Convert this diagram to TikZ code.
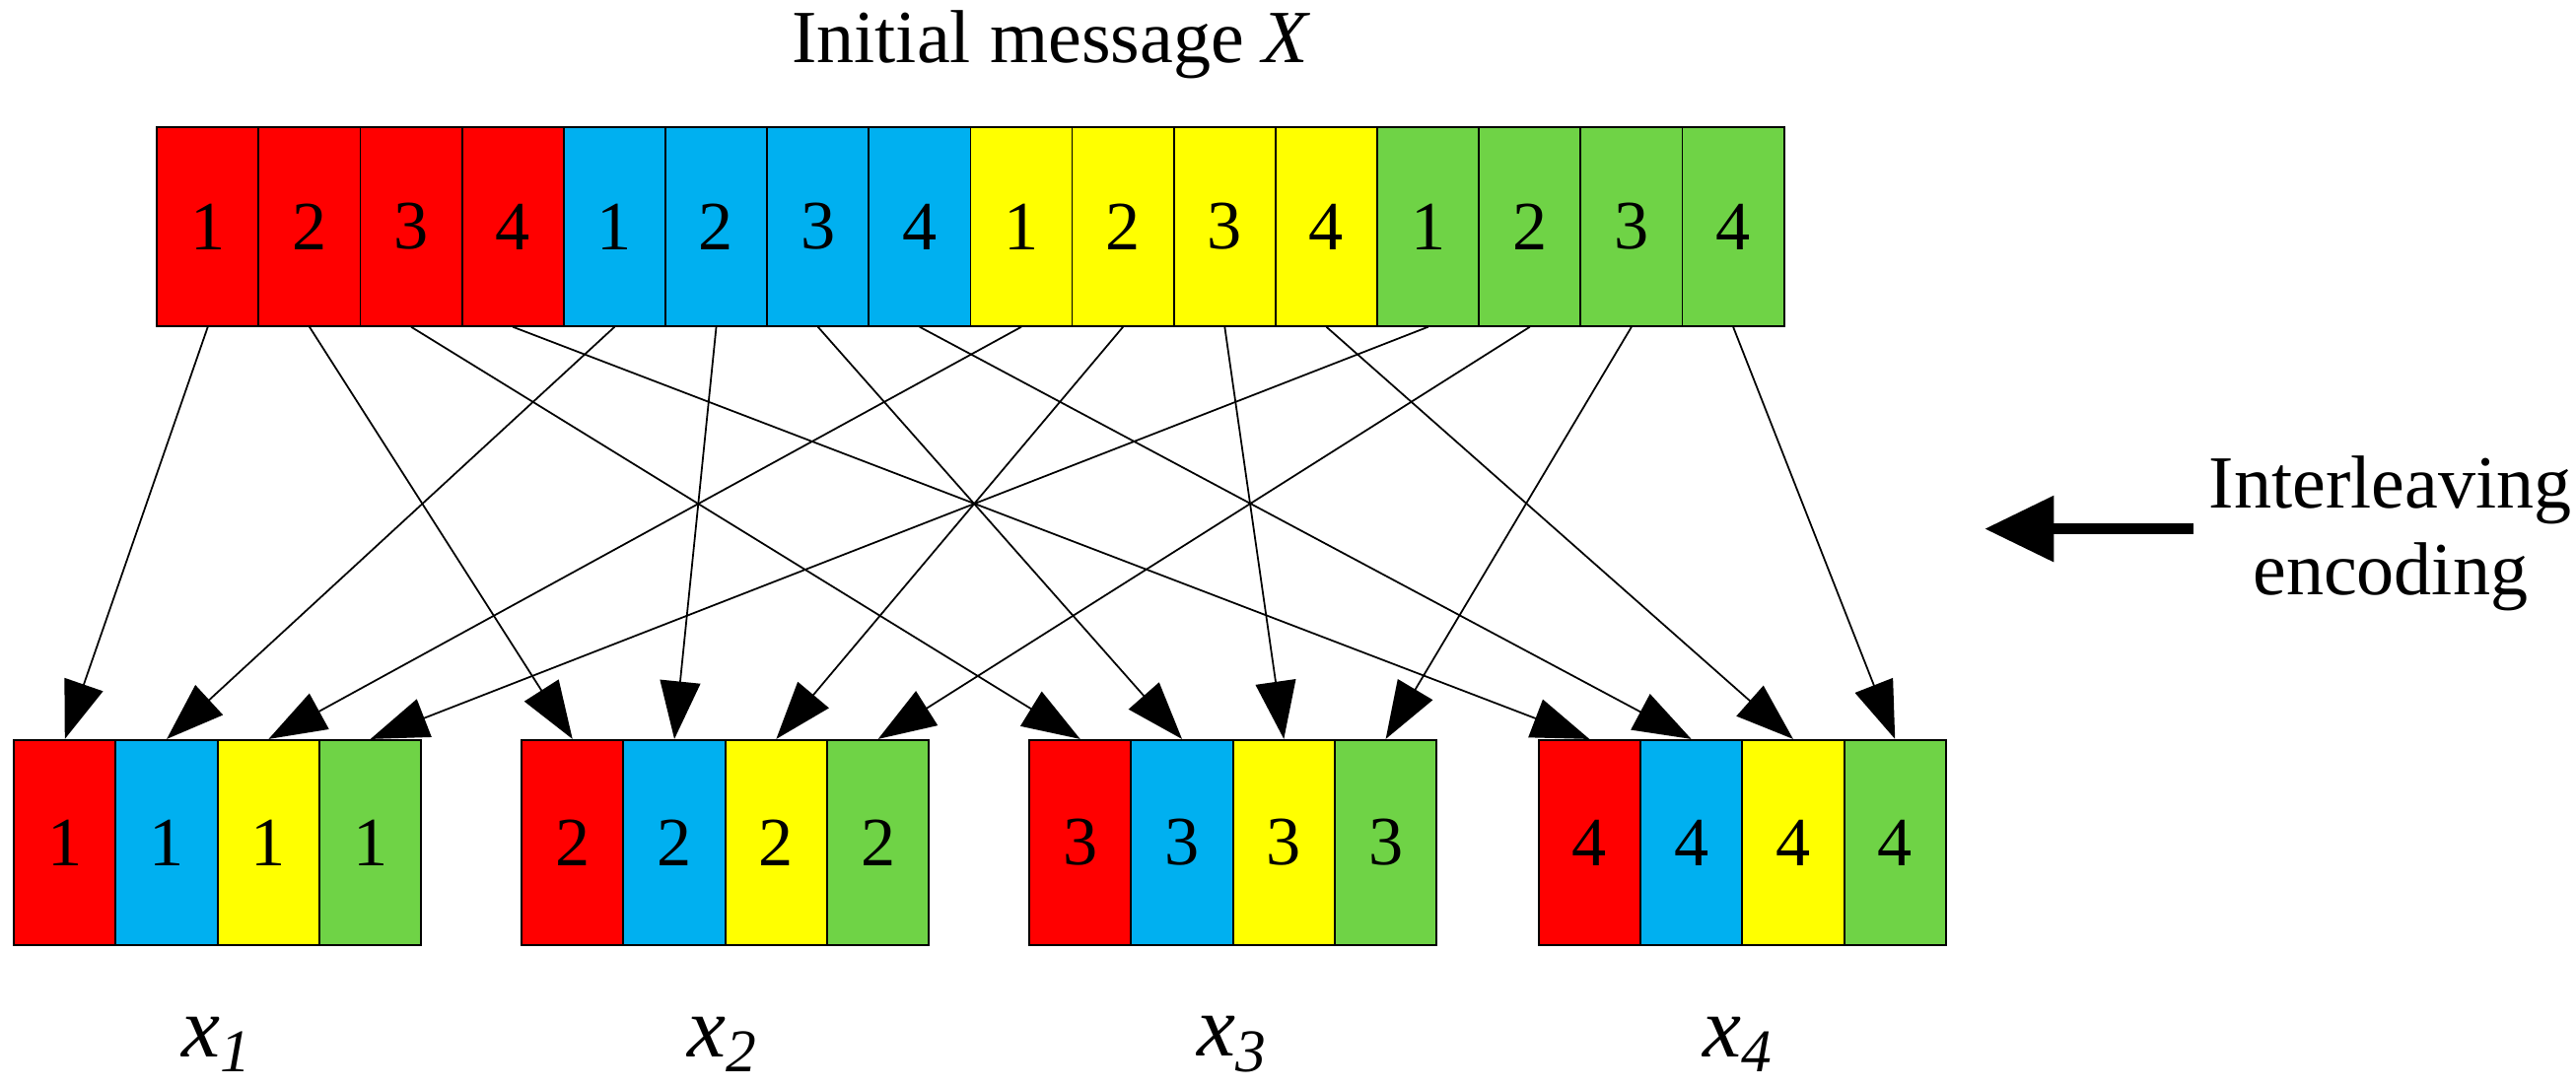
\documentclass[tikz,border=0pt]{standalone}
\usepackage{fontspec}
\setmainfont{Liberation Serif}
\usetikzlibrary{arrows.meta}
\definecolor{cR}{HTML}{FF0000}
\definecolor{cB}{HTML}{00B0F0}
\definecolor{cY}{HTML}{FFFF00}
\definecolor{cG}{HTML}{6FD346}
\begin{document}
\begin{tikzpicture}[x=0.02cm,y=-0.02cm,
  cell/.style={draw=black,line width=0.6pt,minimum width=61.9*0.02cm,minimum height=123*0.02cm,inner sep=0pt,font=\fontsize{24}{28}\selectfont,anchor=north west},
  conn/.style={-{Triangle[length=20pt,width=14pt]},line width=0.6pt},
  lbl/.style={font=\fontsize{26}{30}\selectfont}]
\useasboundingbox (0,0) rectangle (1568,662);
\def\cols{{"cR","cB","cY","cG"}}
% top row
\foreach \g in {0,...,3}{
  \foreach \k in {0,...,3}{
    \pgfmathsetmacro\xx{95+(4*\g+\k)*61.9}
    \pgfmathparse{\cols[\g]}\edef\cc{\pgfmathresult}
    \pgfmathtruncatemacro\lab{\k+1}
    \node[cell,fill=\cc,minimum height=121*0.02cm] (t\g\k) at (\xx,77) {\lab};
  }
}
% bottom groups
\foreach \k/\gx in {0/8,1/317,2/626,3/936}{
  \foreach \g in {0,...,3}{
    \pgfmathsetmacro\xx{\gx+\g*62}
    \pgfmathparse{\cols[\g]}\edef\cc{\pgfmathresult}
    \pgfmathtruncatemacro\lab{\k+1}
    \node[cell,fill=\cc,minimum height=125*0.02cm] (b\k\g) at (\xx,450) {\lab};
  }
}
% connectors
\foreach \g in {0,...,3}{
  \foreach \k in {0,...,3}{
    \draw[conn] (t\g\k.south) -- (b\k\g.north);
  }
}
\node[lbl] (title) at (640,27) {Initial message \textit{X}};
\node[lbl,align=center] (ie) at (1455,325) {Interleaving\\encoding};
\coordinate (as) at (1335,322);
\coordinate (ae) at (1208,322);
\draw[-{Triangle[length=24pt,width=22pt]},line width=4pt] (as) -- (ae);
\foreach \i/\xx in {1/132,2/440,3/750,4/1058}{
  \node[font=\fontsize{30}{34}\selectfont\itshape] (x\i) at (\xx,636) {x\textsubscript{\i}};
}
\end{tikzpicture}
\end{document}
